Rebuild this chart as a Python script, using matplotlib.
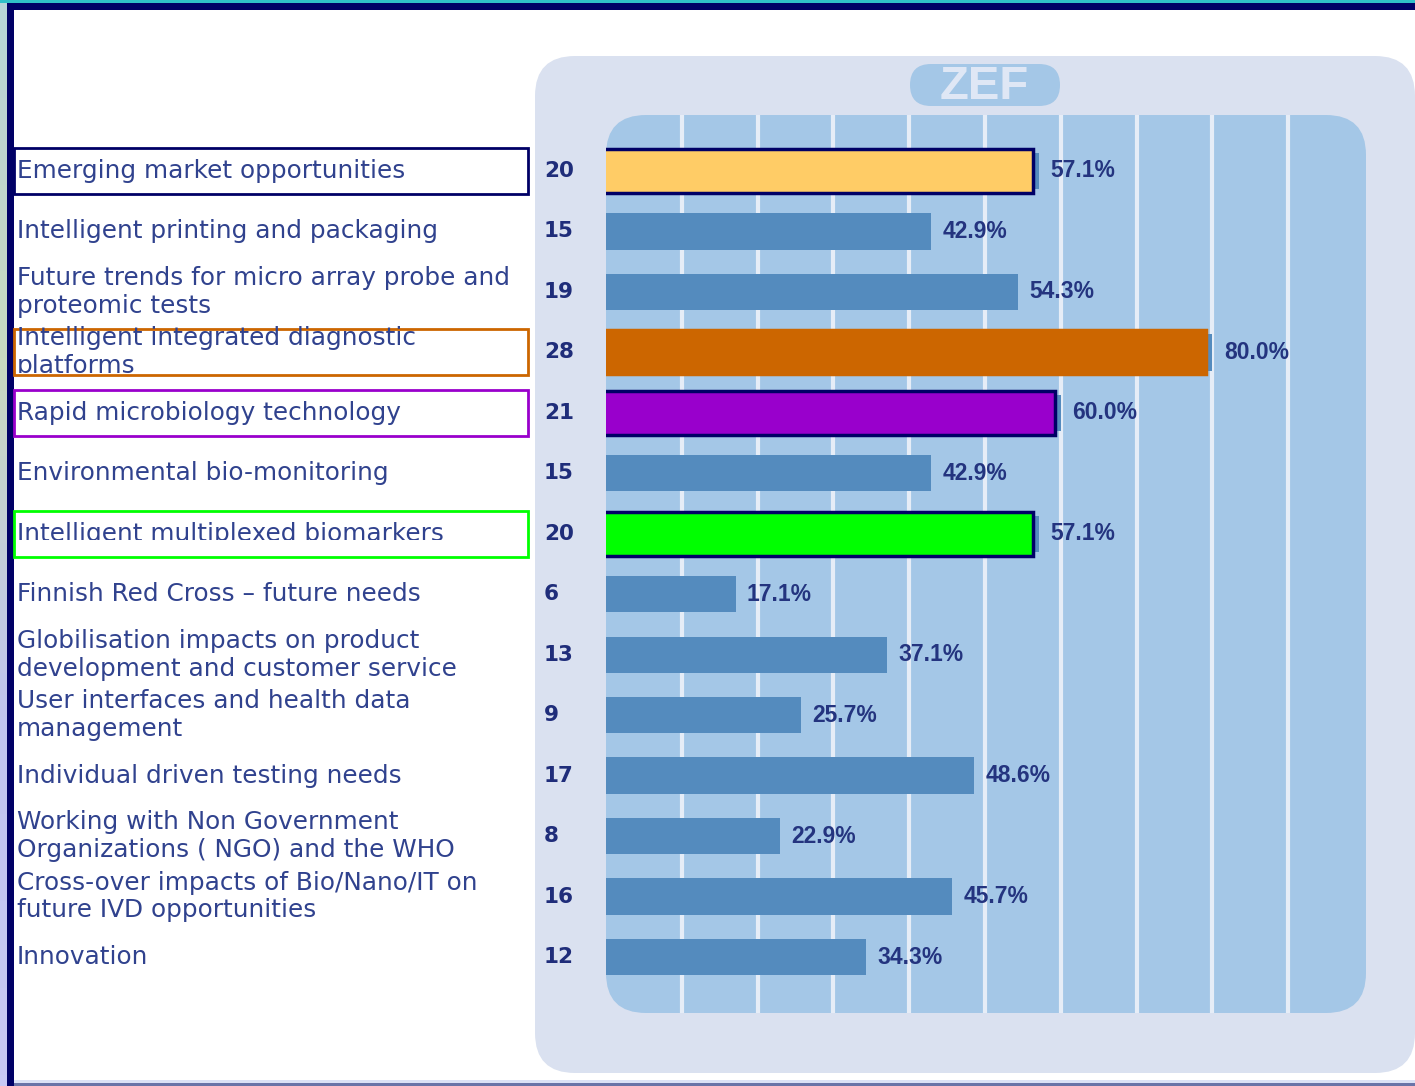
import numpy as np
import matplotlib
matplotlib.use("Agg")
import matplotlib.pyplot as plt
from matplotlib.patches import FancyBboxPatch, Rectangle
from matplotlib.transforms import blended_transform_factory, Bbox

labels = [
    "Emerging market opportunities",
    "Intelligent printing and packaging",
    "Future trends for micro array probe and\nproteomic tests",
    "Intelligent integrated diagnostic\nplatforms",
    "Rapid microbiology technology",
    "Environmental bio-monitoring",
    "Intelligent multiplexed biomarkers",
    "Finnish Red Cross \u2013 future needs",
    "Globilisation impacts on product\ndevelopment and customer service",
    "User interfaces and health data\nmanagement",
    "Individual driven testing needs",
    "Working with Non Government\nOrganizations ( NGO) and the WHO",
    "Cross-over impacts of Bio/Nano/IT on\nfuture IVD opportunities",
    "Innovation",
]
counts = [20, 15, 19, 28, 21, 15, 20, 6, 13, 9, 17, 8, 16, 12]
percents = [57.1, 42.9, 54.3, 80.0, 60.0, 42.9, 57.1, 17.1, 37.1, 25.7, 48.6, 22.9, 45.7, 34.3]
# highlighted rows: (row, fill colour, edge colour of bar, edge colour of label box)
highlights = [
    (0, "#ffcc66", "#000066", "#000066"),
    (3, "#cc6600", "#cc6600", "#cc6600"),
    (4, "#9900cc", "#000066", "#9900cc"),
    (6, "#00ff00", "#000066", "#00ff00"),
]

W, H = 1415, 1086
fig = plt.figure(figsize=(W / 100, H / 100), dpi=100)
fig.patch.set_facecolor("white")

# background / slide frame in pixel coordinates
bg = fig.add_axes([0, 0, 1, 1])
grad = np.linspace(0, 1, 100).reshape(-1, 1)
bg.imshow(grad, extent=(0, 7, H, 0), cmap=matplotlib.colors.LinearSegmentedColormap.from_list(
    "edge", ["#b8d4d8", "#c8d8c0", "#c0c4f0", "#c8c8f4"]), aspect="auto", zorder=0)
bg.set_xlim(0, W)
bg.set_ylim(H, 0)
bg.axis("off")
bg.add_patch(Rectangle((0, 0), W, 3, color="#30c0c8", lw=0))
bg.add_patch(Rectangle((7, 3), W, 7, color="#000066", lw=0))
bg.add_patch(Rectangle((7, 3), 7, H, color="#000066", lw=0))
bg.add_patch(Rectangle((14, 1080), W, 3, color="#dce2f6", lw=0))
bg.add_patch(Rectangle((14, 1083), W, 3, color="#6a74a8", lw=0))

# outer light panel
bg.add_patch(FancyBboxPatch((575, 96), 800, 937, boxstyle="round,pad=40,rounding_size=40",
                            fc="#dae1f0", ec="none"))
# inner panel
bg.add_patch(FancyBboxPatch((646, 155), 680, 818, boxstyle="round,pad=40,rounding_size=40",
                            fc="#a4c7e7", ec="none"))
# ZEF badge
bg.add_patch(FancyBboxPatch((931, 85), 108, 0, boxstyle="round,pad=21,rounding_size=21",
                            fc="#a4c7e7", ec="none"))
bg.text(984, 87, "ZEF", ha="center", va="center", fontsize=34, fontweight="bold",
        color="#dfe7f5", family=["Liberation Sans Narrow", "Liberation Sans", "DejaVu Sans"])

# bar axes: x in percent, 0 at px 606, 100 at px 1364
ax = fig.add_axes([606 / W, 1 - 1013 / H, (1364 - 606) / W, (1013 - 115) / H])
ax.set_xlim(0, 100)
ax.set_ylim(13.926, -0.926)
ax.axis("off")
ax.patch.set_visible(False)

for g in range(10, 100, 10):
    ax.axvline(g, color="#e6edf7", lw=3, zorder=1)

y = np.arange(len(labels))
ax.barh(y, percents, height=0.6, color="#548bbe", zorder=2)

for row, fc, ec, _ in highlights:
    ax.barh(row, percents[row] - 0.4, left=-0.4, height=0.73, color=fc,
            edgecolor=ec, lw=2.5, zorder=3)

pct_font = ["Liberation Sans Narrow", "Liberation Sans", "DejaVu Sans"]
tr = blended_transform_factory(fig.transFigure, ax.transData)
texts_clip = []
for i in y:
    lab = ax.text(17 / W, i, labels[i], transform=tr, ha="left", va="center",
                  fontsize=17.8, color="#30428e", linespacing=1.2, zorder=5,
                  clip_on=False)
    cnt = ax.text(544 / W, i, str(counts[i]), transform=tr, ha="left", va="center",
                  fontsize=15.5, fontweight="bold", color="#1f2d7a", zorder=5,
                  clip_on=False)
    pct = ax.text(percents[i] + 1.5, i, "%.1f%%" % percents[i], ha="left", va="center",
                  fontsize=16.5, fontweight="bold", color="#24347f", family=pct_font,
                  zorder=5, clip_on=False)
    if i == 6:
        texts_clip += [lab, cnt, pct]
    if i == 3:
        lab.set_clip_box(Bbox([[0, H - 373], [W, H]]))
        lab.set_clip_on(True)

for t in texts_clip:
    t.set_clip_box(Bbox([[0, H - 540], [W, H]]))
    t.set_clip_on(True)

# boxes around highlighted labels
for row, _, _, bc in highlights:
    ax.add_patch(Rectangle((14 / W, row - 0.38), 514 / W, 0.76, transform=tr,
                           fill=False, ec=bc, lw=2, clip_on=False, zorder=4))

fig.savefig("out.png", dpi=100)
